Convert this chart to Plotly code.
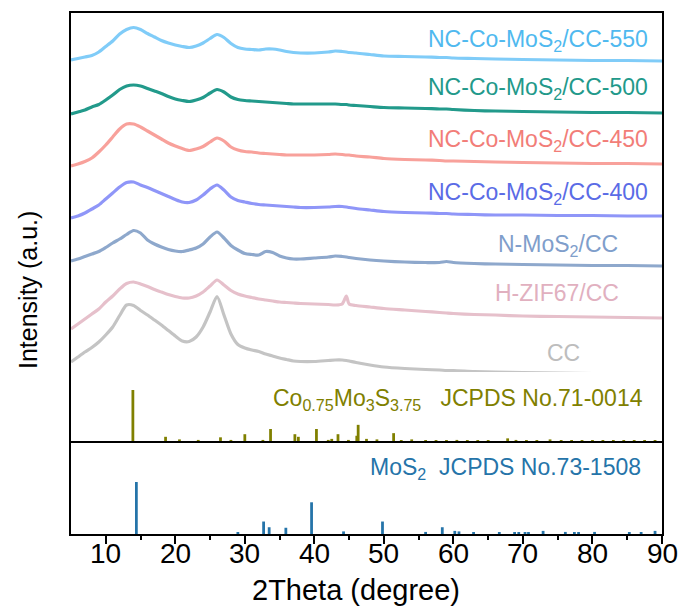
import plotly.graph_objects as go

# ---------------- data ----------------
two_theta = [5, 6, 7, 8, 9, 10, 11, 12, 13, 14, 15, 16, 17, 18, 19, 20, 21, 22, 23, 24,
             25, 26, 27, 28, 29, 30, 31, 32, 33, 34, 35, 36, 37, 38, 40, 42, 43, 44, 44.6,
             45, 46, 48, 50, 53, 56, 58, 59, 60, 63, 66, 70, 75, 80, 85, 90]

int_550 = [1, 2.5, 4, 5.5, 9, 14.5, 20, 27, 31.5, 33.5, 31.5, 27.5, 24, 20.5, 18, 16, 14.5, 13.5, 15, 18,
           22.5, 26.5, 23.5, 17.5, 13.5, 12, 11.5, 11, 12, 12, 11, 9.5, 8.5, 8, 8, 9, 10, 9.5, 9,
           8.5, 8, 6.5, 5, 4.5, 4, 3.5, 3.5, 3, 2.5, 2, 1.5, 1, 0.5, 0.5, 0]
int_500 = [-1, 1, 3, 6, 8.5, 13, 18, 23.5, 27, 28, 27, 24.5, 22, 19.5, 16.5, 14, 12.5, 11.5, 13, 15.5,
           20, 23.5, 21, 16, 13.5, 12.5, 12, 11.5, 11, 10.5, 10, 9.5, 9, 9, 9, 9, 9, 8.5, 8.5,
           8, 7.5, 6.5, 5.5, 5, 4.5, 4, 4, 3.5, 2.5, 2, 1.5, 1, 0.5, 0.5, 0]
int_450 = [-2, 0, 2.5, 6, 12, 19, 27, 35, 40, 40, 37, 33, 29, 25, 21, 18, 15.5, 13.5, 15, 17.5,
           22, 26, 23, 17, 14, 12.5, 12, 11, 10.5, 10, 9.5, 9, 9, 9, 9, 9.5, 10, 9.5, 9,
           9, 8, 7, 5.5, 4.5, 4, 3.5, 3, 3, 2.5, 2, 1.5, 1, 0.5, 0.5, 0]
int_400 = [-2, 0, 3, 7, 11, 17, 23, 29, 33.5, 34, 31, 28.5, 25.5, 22.5, 19.5, 16.5, 14, 13.5, 16, 21,
           27, 31, 26, 19, 15.5, 14, 12.5, 11.5, 11, 10.5, 10, 9.5, 9, 8.5, 8.5, 9, 9.5, 9.5, 9,
           8.5, 7.5, 6, 4.5, 3.5, 3, 2.5, 2.5, 2, 1.5, 1, 1, 0.5, 0.5, 0, 0]
int_nmos2 = [5, 7, 9.5, 12, 14.5, 18.5, 23, 27, 31.5, 35.5, 33, 26, 22, 19, 16.5, 15, 14.5, 16, 18, 22,
             29, 34, 28, 20.5, 16, 12.5, 11.5, 11, 14.5, 13.5, 10, 8, 7, 7, 8, 9, 10, 9.5, 9,
             8.5, 7.5, 6, 5, 4, 3.5, 3.5, 4.5, 3.5, 2.5, 2, 1.5, 1, 0.5, 0.5, 0]
int_hzif67 = [-11, -6, -1, 4, 9, 16, 22, 29, 34.5, 36, 34, 31.5, 28.5, 26, 23.5, 21.5, 20, 20, 22, 26,
              32, 38, 33, 27.5, 24, 22, 20.5, 19, 18, 17, 16, 15.5, 15, 14.5, 14, 13.5, 13, 14, 22,
              14, 12.5, 11, 9.5, 8, 6.5, 5.5, 5, 4.5, 3.5, 3, 2, 1.5, 1, 0.5, 0]
int_cc = [12, 17, 22, 26.5, 32, 39, 47, 58.5, 69, 68.5, 63.5, 59, 54, 49, 43.5, 38, 33, 32.5, 37, 47,
          62, 77.5, 59, 40, 29.5, 26, 24, 22.5, 20, 18, 16, 14.5, 13, 12.5, 12.5, 13.5, 14, 14, 13.5,
          13, 11.5, 9, 7, 5.5, 4.5, 4, 3.5, 3.5, 2.5, 2, 1.5, 1, 0.5, 0.5, 0]

sample_names = ["NC-Co-MoS<sub>2</sub>/CC-550", "NC-Co-MoS<sub>2</sub>/CC-500",
                "NC-Co-MoS<sub>2</sub>/CC-450", "NC-Co-MoS<sub>2</sub>/CC-400",
                "N-MoS<sub>2</sub>/CC", "H-ZIF67/CC", "CC"]

# Co0.75Mo3S3.75 JCPDS No.71-0014 (relative intensity)
co_pos = [13.9, 18.6, 20.6, 23.3, 26.5, 28.0, 30.0, 32.6, 33.7, 37.2, 37.7, 40.3, 42.0, 42.5, 43.4,
          44.9, 46.1, 46.3, 47.5, 49.0, 51.4, 52.5, 54.0, 56.0, 57.5, 59.0, 60.5, 62.0, 63.5, 65.0,
          67.8, 69.0, 70.5, 72.0, 73.9, 75.5, 77.0, 78.5, 80.0, 81.5, 83.0, 84.5, 86.0, 87.5, 89.0]
co_int = [100, 10, 5, 4, 9, 4, 15, 4, 25, 15, 10, 25, 4, 6, 15,
          4, 12, 33, 6, 5, 17, 3, 5, 3, 3, 3, 4, 3, 3, 3,
          7, 4, 3, 3, 5, 3, 3, 3, 3, 3, 3, 3, 3, 3, 3]

# MoS2 JCPDS No.73-1508 (relative intensity)
mos2_pos = [14.4, 29.0, 32.7, 33.5, 35.9, 39.6, 44.2, 49.8, 56.0, 58.4, 60.2, 60.8, 62.9, 66.6,
            68.8, 69.4, 70.3, 70.8, 72.9, 76.1, 77.4, 78.0, 80.3, 85.3, 87.0, 89.0]
mos2_int = [100, 2, 24, 13, 12, 61, 5, 24, 4, 13, 6, 5, 2, 2,
            3, 3, 3, 3, 6, 4, 2, 2, 4, 2, 2, 6]

x_ticks = [10, 20, 30, 40, 50, 60, 70, 80, 90]
x_minor = [15, 25, 35, 45, 55, 65, 75, 85]

# ---------------- styling ----------------
FONT = "Arial, Liberation Sans, sans-serif"
curves = [int_550, int_500, int_450, int_400, int_nmos2, int_hzif67, int_cc]
offsets = [473, 421, 370, 318, 268, 216, 160]
line_colors = ["#80CCF8", "#229A8B", "#F8A19B", "#8F96F8", "#8EA8CC", "#E6C0CB", "#C4C4C4"]
label_colors = ["#4FB9EF", "#22998A", "#F27D78", "#5A6BE6", "#7F9ECB", "#E1B0BF", "#BDBDBD"]
label_x = [88.3, 88.3, 88.3, 88.3, 83.9, 84.1, 78.5]
label_y = [494, 446, 394, 341, 289, 241, 181]
LABEL_SIZE = 23

fig = go.Figure()
for vals, off, col in zip(curves, offsets, line_colors):
    fig.add_trace(go.Scatter(x=two_theta, y=[v + off for v in vals], mode="lines",
                             line=dict(color=col, width=3.2, shape="spline", smoothing=0.7),
                             yaxis="y", showlegend=False, hoverinfo="skip"))

fig.add_trace(go.Bar(x=co_pos, y=co_int, width=0.4, marker=dict(color="#808000", line_width=0),
                     yaxis="y2", showlegend=False))
fig.add_trace(go.Bar(x=mos2_pos, y=mos2_int, width=0.4, marker=dict(color="#2574A9", line_width=0),
                     yaxis="y3", showlegend=False))

ann = []
for name, col, lx, ly in zip(sample_names, label_colors, label_x, label_y):
    ann.append(dict(x=lx, y=ly, xref="x", yref="y", text=name, showarrow=False,
                    xanchor="right", yanchor="middle",
                    font=dict(family=FONT, size=LABEL_SIZE, color=col)))
ann.append(dict(x=87.6, y=135, xref="x", yref="y",
                text="Co<sub>0.75</sub>Mo<sub>3</sub>S<sub>3.75</sub>&nbsp;&nbsp;&nbsp;JCPDS No.71-0014",
                showarrow=False, xanchor="right", yanchor="middle",
                font=dict(family=FONT, size=LABEL_SIZE, color="#808000")))
ann.append(dict(x=87.3, y=66, xref="x", yref="y",
                text="MoS<sub>2</sub>&nbsp;&nbsp;JCPDS No.73-1508",
                showarrow=False, xanchor="right", yanchor="middle",
                font=dict(family=FONT, size=LABEL_SIZE, color="#2574A9")))
# x tick labels
for t in x_ticks:
    ann.append(dict(x=t, y=-0.0365, xref="x", yref="paper", text=str(t), showarrow=False,
                    xanchor="center", yanchor="middle",
                    font=dict(family=FONT, size=28, color="black")))
ann.append(dict(x=0.483, y=-0.1075, xref="paper", yref="paper", text="2Theta (degree)",
                showarrow=False, xanchor="center", yanchor="middle",
                font=dict(family=FONT, size=29, color="black")))
ann.append(dict(x=-0.073, y=0.468, xref="paper", yref="paper", text="Intensity (a.u.)",
                showarrow=False, xanchor="center", yanchor="middle", textangle=-90,
                font=dict(family=FONT, size=25, color="black")))

split = 92 / 521.0
fig.update_layout(
    width=683, height=610,
    margin=dict(l=71, r=21, t=13, b=76),
    plot_bgcolor="white", paper_bgcolor="white",
    barmode="overlay",
    font=dict(family=FONT, color="black"),
    xaxis=dict(range=[5, 90], tickvals=x_ticks, ticks="outside", ticklen=8, tickwidth=2,
               tickcolor="black", showticklabels=False,
               showline=True, linewidth=2, linecolor="black", mirror=True,
               showgrid=False, zeroline=False,
               minor=dict(tickvals=x_minor, ticks="outside", ticklen=4,
                          tickwidth=2, tickcolor="black"),
               anchor="y"),
    yaxis=dict(range=[0, 521], domain=[0, 1], showticklabels=False, ticks="", showline=True,
               linewidth=2, linecolor="black", mirror=True, showgrid=False, zeroline=False),
    yaxis2=dict(range=[0, 134.6], domain=[split, 162 / 521.0], anchor="x", visible=False),
    yaxis3=dict(range=[0, 177], domain=[0, split], anchor="x", visible=False),
    annotations=ann,
    shapes=[dict(type="line", xref="paper", yref="paper", x0=0, x1=1, y0=split, y1=split,
                 line=dict(color="black", width=2))],
)

fig.write_html("out.html")
